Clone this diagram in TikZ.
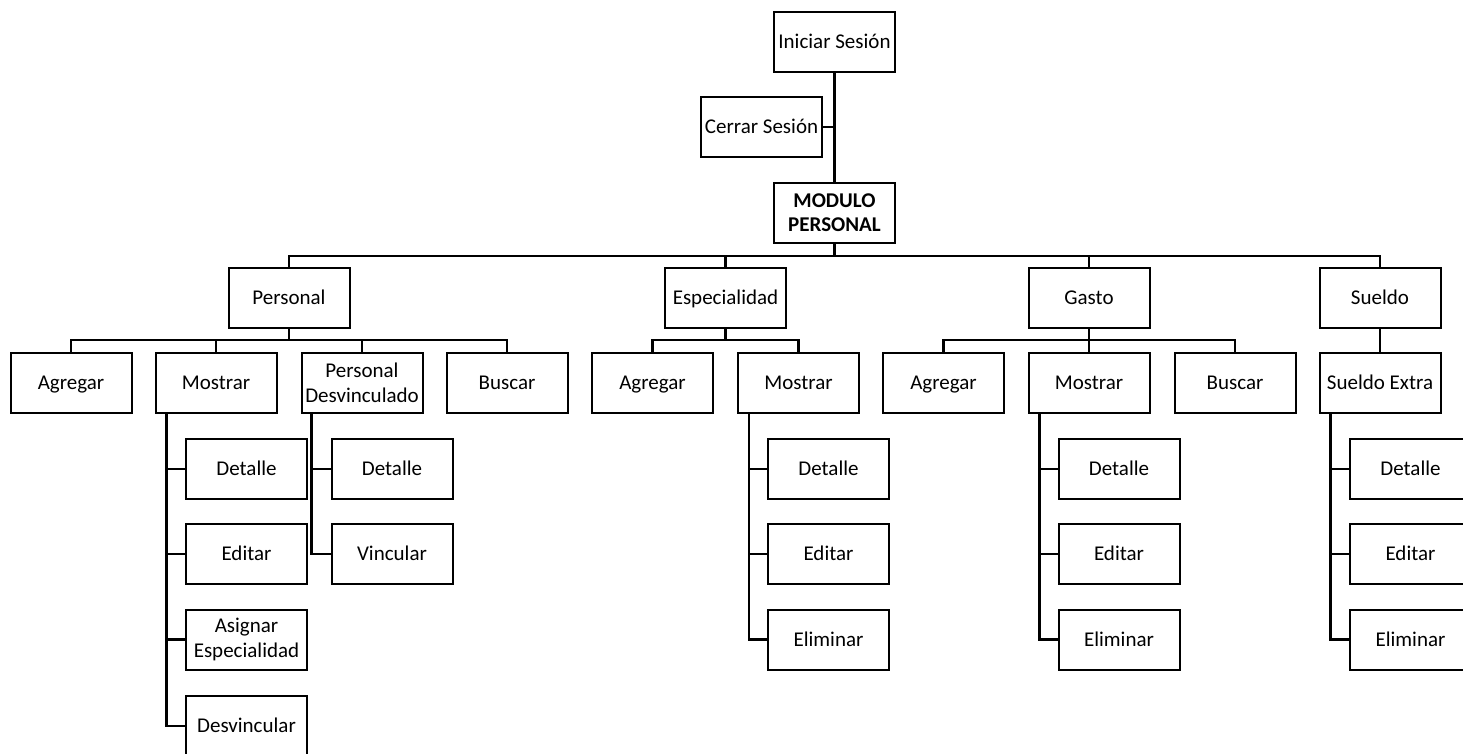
\documentclass[tikz,border=0pt]{standalone}
\usepackage{fontspec}
\setmainfont{Carlito}
\begin{document}
\begin{tikzpicture}[x=1pt,y=-1pt,
  box/.style={draw=black,line width=2pt,minimum width=121pt,minimum height=60pt,inner sep=0pt,align=center,font=\fontsize{21}{25}\selectfont},
  bx/.style={box,text height=17pt,text depth=4pt},
  ml/.style={box},
  ln/.style={draw=black,line width=2.2pt}]
\useasboundingbox (0,0) rectangle (1463,753);
\clip (0,0) rectangle (1463,753);
% top
\node[bx] (ini) at (834.5,42) {Iniciar Sesión};
\node[bx] (cer) at (761.5,127) {Cerrar Sesión};
\node[ml,font=\fontsize{21}{24}\bfseries\selectfont] (mod) at (834.5,212.5) {MODULO\\PERSONAL};
\draw[ln] (ini.south) -- (mod.north);
\draw[ln] (cer.east) -- (cer.east -| ini.south);
% level 2
\node[bx] (per) at (289,298) {Personal};
\node[bx] (esp) at (725.5,298) {Especialidad};
\node[bx] (gas) at (1089,298) {Gasto};
\node[bx] (sue) at (1380,298) {Sueldo};
\coordinate (bus) at (0,256);
\draw[ln] (mod.south) -- (mod.south |- bus);
\draw[ln] (per.north) -- (per.north |- bus) -- (sue.north |- bus) -- (sue.north);
\draw[ln] (esp.north) -- (esp.north |- bus);
\draw[ln] (gas.north) -- (gas.north |- bus);
% level 3
\coordinate (bus3) at (0,340);
\node[bx] (pag) at (71,383) {Agregar};
\node[bx] (pmo) at (216,383) {Mostrar};
\node[ml] (pde) at (362,383) {Personal\\Desvinculado};
\node[bx] (pbu) at (507,383) {Buscar};
\draw[ln] (per.south) -- (per.south |- bus3);
\draw[ln] (pag.north) -- (pag.north |- bus3) -- (pbu.north |- bus3) -- (pbu.north);
\draw[ln] (pmo.north) -- (pmo.north |- bus3);
\draw[ln] (pde.north) -- (pde.north |- bus3);
\node[bx] (eag) at (652.5,383) {Agregar};
\node[bx] (emo) at (798.5,383) {Mostrar};
\draw[ln] (esp.south) -- (esp.south |- bus3);
\draw[ln] (eag.north) -- (eag.north |- bus3) -- (emo.north |- bus3) -- (emo.north);
\node[bx] (gag) at (943.5,383) {Agregar};
\node[bx] (gmo) at (1089,383) {Mostrar};
\node[bx] (gbu) at (1235,383) {Buscar};
\draw[ln] (gas.south) -- (gas.south |- bus3);
\draw[ln] (gag.north) -- (gag.north |- bus3) -- (gbu.north |- bus3) -- (gbu.north);
\draw[ln] (gmo.north) -- (gmo.north |- bus3);
\node[bx] (sex) at (1380,383) {Sueldo Extra};
\draw[ln] (sue.south) -- (sex.north);
% level 4 - Personal / Mostrar
\coordinate (pmv) at ([xshift=12pt]pmo.south west);
\node[bx] (pm1) at (246.5,469) {Detalle};
\node[bx] (pm2) at (246.5,554) {Editar};
\node[ml] (pm3) at (246.5,639.5) {Asignar\\Especialidad};
\node[bx] (pm4) at (246.5,726) {Desvincular};
\foreach \c in {pm1,pm2,pm3,pm4} \draw[ln] (pmv) |- (\c.west);
% Personal Desvinculado
\coordinate (pdv) at ([xshift=11pt]pde.south west);
\node[bx] (pd1) at (392,469) {Detalle};
\node[bx] (pd2) at (392,554) {Vincular};
\foreach \c in {pd1,pd2} \draw[ln] (pdv) |- (\c.west);
% Especialidad / Mostrar
\coordinate (emv) at ([xshift=12pt]emo.south west);
\node[bx] (em1) at (828.5,469) {Detalle};
\node[bx] (em2) at (828.5,554) {Editar};
\node[bx] (em3) at (828.5,639.5) {Eliminar};
\foreach \c in {em1,em2,em3} \draw[ln] (emv) |- (\c.west);
% Gasto / Mostrar
\coordinate (gmv) at ([xshift=12pt]gmo.south west);
\node[bx] (gm1) at (1119,469) {Detalle};
\node[bx] (gm2) at (1119,554) {Editar};
\node[bx] (gm3) at (1119,639.5) {Eliminar};
\foreach \c in {gm1,gm2,gm3} \draw[ln] (gmv) |- (\c.west);
% Sueldo Extra
\coordinate (sxv) at ([xshift=12pt]sex.south west);
\node[bx] (sx1) at (1410.5,469) {Detalle};
\node[bx] (sx2) at (1410.5,554) {Editar};
\node[bx] (sx3) at (1410.5,639.5) {Eliminar};
\foreach \c in {sx1,sx2,sx3} \draw[ln] (sxv) |- (\c.west);
\end{tikzpicture}
\end{document}
